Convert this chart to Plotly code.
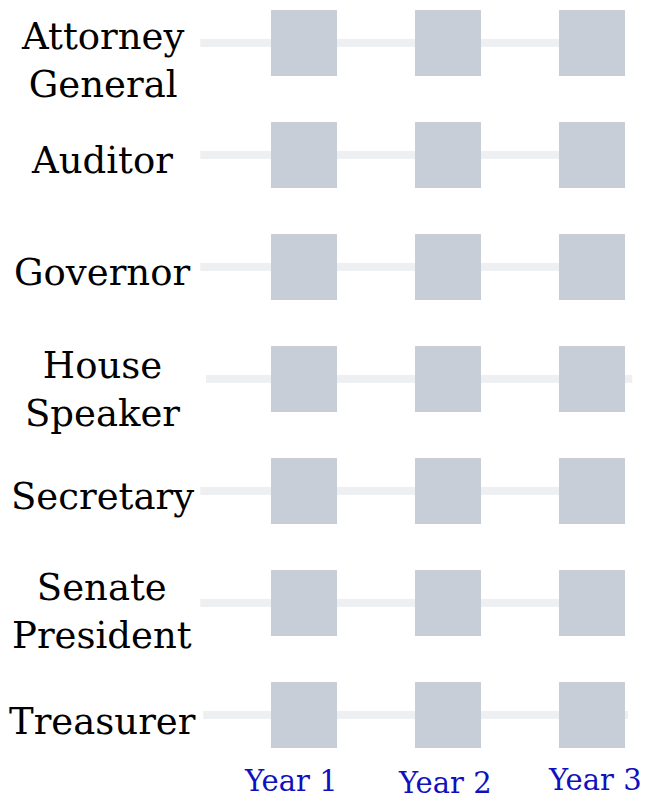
import plotly.graph_objects as go

# rows (top to bottom) and the three years
offices = ['Attorney<br>General', 'Auditor', 'Governor', 'House<br>Speaker',
           'Secretary', 'Senate<br>President', 'Treasurer']
years = ['Year 1', 'Year 2', 'Year 3']
year_x = [1, 2, 3]

# faint connector line extent per row (in year units)
line_start = [0.28, 0.28, 0.28, 0.32, 0.28, 0.28, 0.30]
line_end = [3.2, 3.2, 3.2, 3.28, 3.2, 3.2, 3.25]

SQUARE = '#c7ced8'
LINE = '#eeeff1'
FONT = 'DejaVu Serif'

fig = go.Figure()

# connector lines, one segment per row
lx, ly = [], []
for i in range(len(offices)):
  lx += [line_start[i], line_end[i], None]
  ly += [i, i, None]
fig.add_trace(go.Scatter(x=lx, y=ly, mode='lines', line=dict(color=LINE, width=8),
                         hoverinfo='skip', showlegend=False))

# squares
sx, sy = [], []
for i in range(len(offices)):
  for x in year_x:
    sx.append(x)
    sy.append(i)
fig.add_trace(go.Scatter(x=sx, y=sy, mode='markers',
                         marker=dict(symbol='square', size=66, color=SQUARE, line=dict(width=0)),
                         showlegend=False))

# office labels
label_shift = [-17, -5, -5, -10, -5, -8, -6]
for i, name in enumerate(offices):
  fig.add_annotation(x=-0.4, y=i, text=name, showarrow=False, align='center',
                     xanchor='center', yanchor='middle', yshift=label_shift[i],
                     font=dict(family=FONT, size=37, color='black'))

# year labels (slightly jittered)
year_dx = [-13, -3, 3]
year_dy = [2, 0, 3]
for x, t, dx, dy in zip(year_x, years, year_dx, year_dy):
  fig.add_annotation(x=x, y=0.02, yref='paper', text=t, showarrow=False,
                     xanchor='center', yanchor='middle', xshift=dx, yshift=dy,
                     font=dict(family=FONT, size=29, color='#1010c0'))

# page body adds an 8px margin, so the figure is 8px smaller than the window
fig.update_layout(
  width=640, height=791,
  margin=dict(l=0, r=0, t=0, b=0),
  plot_bgcolor='white', paper_bgcolor='white',
  xaxis=dict(range=[-1.0556, 3.389], visible=False, fixedrange=True),
  yaxis=dict(range=[6.75, -0.3125], visible=False, fixedrange=True),
)

fig.write_html('out.html')
